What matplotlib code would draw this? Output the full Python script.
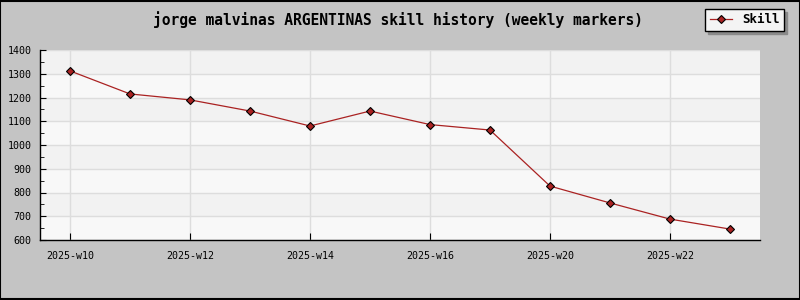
import matplotlib
matplotlib.use("Agg")
import matplotlib.pyplot as plt
from matplotlib.ticker import MultipleLocator

weeks = ["2025-w10", "2025-w11", "2025-w12", "2025-w13", "2025-w14", "2025-w15",
         "2025-w16", "2025-w18", "2025-w20", "2025-w21", "2025-w22", "2025-w23"]
skill = [1312, 1215, 1190, 1143, 1080, 1143, 1086, 1063, 827, 756, 688, 646]

plt.rcParams['font.family'] = ['DejaVu Sans Mono']

fig = plt.figure(figsize=(8, 3), dpi=100, facecolor="#c4c4c4")
ax = fig.add_axes([40/800, 60/300, 720/800, 190/300])
ax.set_facecolor("#f8f8f8")

# alternating horizontal bands
for i, lo in enumerate(range(600, 1400, 100)):
    if i % 2 == 1:
        ax.axhspan(lo, lo + 100, color="#f2f2f2", zorder=0, lw=0)

x = list(range(len(weeks)))
ax.plot(x, skill, color="#aa2222", lw=0.9, marker="D", ms=4.5,
        mfc="#aa2222", mec="black", mew=0.8, label="Skill", zorder=3)

ax.set_xlim(-0.5, len(weeks) - 0.5)
ax.set_ylim(600, 1400)
ax.set_xticks(x[::2])
ax.set_xticklabels(weeks[::2])
ax.yaxis.set_major_locator(MultipleLocator(100))
ax.yaxis.set_minor_locator(MultipleLocator(50))

ax.grid(True, which="major", color="#dddddd", lw=1, zorder=1)
ax.set_axisbelow(True)
for s in ["top", "right"]:
    ax.spines[s].set_visible(False)
for s in ["left", "bottom"]:
    ax.spines[s].set_color("black")
    ax.spines[s].set_linewidth(1)

ax.tick_params(axis="y", which="major", direction="in", length=4, labelsize=7.2, pad=6)
ax.tick_params(axis="y", which="minor", direction="in", length=3)
ax.tick_params(axis="x", direction="in", length=5, labelsize=7.2, pad=8)

fig.text(0.497, 0.935, "jorge malvinas ARGENTINAS skill history (weekly markers)",
         ha="center", va="center", fontsize=10.5, fontweight="bold")

leg = ax.legend(loc="upper right", bbox_to_anchor=(784/800, 1 - 9/300),
                bbox_transform=fig.transFigure, frameon=True, fancybox=False,
                shadow={"color": "#8a8a8a", "alpha": 1}, edgecolor="black",
                facecolor="#f4f4f4", prop={"size": 9, "weight": "bold"},
                handlelength=1.8, handletextpad=0.8, borderpad=0.35,
                borderaxespad=0)
leg.get_frame().set_linewidth(1)
leg.get_frame().set_alpha(1)

# outer border
fig.patches.append(plt.Rectangle((0.0006, 0.002), 0.9988, 0.996, transform=fig.transFigure,
                                 fill=False, edgecolor="black", lw=1.5))

fig.savefig("out.png", dpi=100, facecolor=fig.get_facecolor())
